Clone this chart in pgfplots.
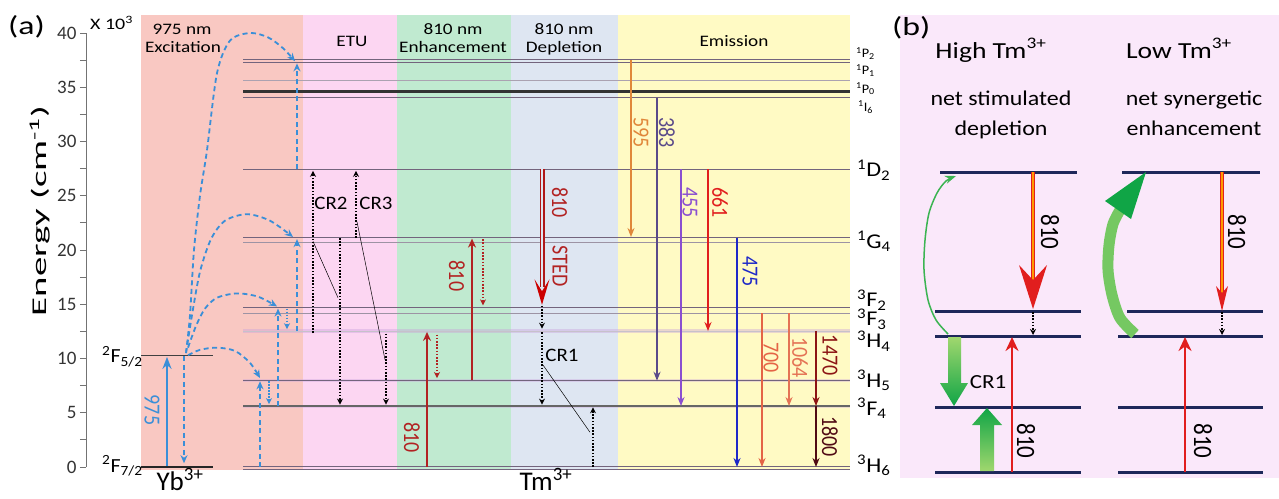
\documentclass[border=0pt]{standalone}
\usepackage{fontspec}
\setmainfont{Carlito}
\usepackage{graphicx}
\usepackage{pgfplots}
\pgfplotsset{compat=1.18}
\usetikzlibrary{arrows.meta}

\definecolor{cExc}{RGB}{249,200,194}
\definecolor{cETU}{RGB}{252,214,242}
\definecolor{cEnh}{RGB}{192,234,208}
\definecolor{cDep}{RGB}{222,230,242}
\definecolor{cEmi}{RGB}{255,250,196}
\definecolor{cPb}{RGB}{250,232,250}
\definecolor{levc}{RGB}{115,100,125}
\definecolor{bandc}{RGB}{200,160,220}
\definecolor{blueA}{RGB}{58,143,216}
\definecolor{dred}{RGB}{178,34,34}
\definecolor{cOr}{RGB}{224,135,58}
\definecolor{cDP}{RGB}{90,74,138}
\definecolor{cPu}{RGB}{138,79,208}
\definecolor{cRd}{RGB}{225,30,30}
\definecolor{cBl}{RGB}{30,40,200}
\definecolor{cCo}{RGB}{228,100,70}
\definecolor{cCo2}{RGB}{228,115,85}
\definecolor{cDR}{RGB}{140,20,20}
\definecolor{cDR2}{RGB}{80,10,20}
\definecolor{navy}{RGB}{30,40,90}
\definecolor{gL}{RGB}{160,215,110}
\definecolor{gD}{RGB}{16,165,70}
\definecolor{stedc}{RGB}{176,24,24}

\newcommand{\hs}[2][1.2]{\scalebox{#1}[1]{#2}}
\newcommand{\vs}[2][1.15]{\scalebox{1}[#1]{#2}}

\tikzset{
  dsh/.style={blueA, line width=1.8pt, dash pattern=on 5pt off 3.5pt},
  dotb/.style={line width=1.8pt, dash pattern=on 1.6pt off 1.6pt},
  ah/.style={-{Stealth[length=8pt,width=7pt]}},
  sah/.style={-{Stealth[length=6pt,width=6pt]}},
  solar/.style={line width=2pt, -{Stealth[length=9pt,width=7pt]}},
  lbl/.style={font=\fontsize{20}{20}\selectfont, rotate=-90, inner sep=0pt},
  hdr/.style={font=\fontsize{16}{16}\selectfont, anchor=base, inner sep=0pt},
  lev/.style={levc, line width=1pt},
}

\begin{document}
\begin{tikzpicture}
% ---------------- panel (b) and frame, pixel coordinates ----------------
\begin{axis}[name=B, at={(0pt,0pt)}, anchor=north west, x=1pt, y=1pt,
  xmin=0, xmax=1279, ymin=0, ymax=498, y dir=reverse, hide axis, clip=false]
\addplot[fill=cPb, draw=none] coordinates {(900,15) (1279,15) (1279,478) (900,478)} --cycle;
% levels left group
\addplot[navy, line width=3pt] coordinates {(940,172) (1077,172)};
\addplot[navy, line width=3pt] coordinates {(935,311) (1081,311)};
\addplot[navy, line width=3pt] coordinates {(935,336) (1081,336)};
\addplot[navy, line width=3pt] coordinates {(935,407) (1081,407)};
\addplot[navy, line width=3pt] coordinates {(935,472) (1081,472)};
% levels right group
\addplot[navy, line width=3pt] coordinates {(1122,172) (1260,172)};
\addplot[navy, line width=3pt] coordinates {(1127,311) (1263,311)};
\addplot[navy, line width=3pt] coordinates {(1118,336) (1263,336)};
\addplot[navy, line width=3pt] coordinates {(1118,407) (1263,407)};
\addplot[navy, line width=3pt] coordinates {(1118,472) (1263,472)};
% red double arrows
\addplot[draw=cRd, double=orange!80!yellow, double distance=1.6pt, line width=1.4pt] coordinates {(1033,172) (1033,285)};
\addplot[fill=cRd, draw=none] coordinates {(1033,309) (1019,265) (1033,280) (1047,265)} --cycle;
\addplot[draw=cRd, double=orange!80!yellow, double distance=1.3pt, line width=1.0pt] coordinates {(1222,172) (1222,298)};
\addplot[fill=cRd, draw=none] coordinates {(1222,311) (1216,286) (1222,293) (1228,286)} --cycle;
% dotted
\addplot[dotb, black, line width=1.4pt, sah] coordinates {(1033,312) (1033,335)};
\addplot[dotb, black, line width=1.4pt, sah] coordinates {(1222,312) (1222,335)};
% red solid up
\addplot[cRd, line width=2.5pt, -{Stealth[length=14pt,width=13pt]}] coordinates {(1012,472) (1012,337)};
\addplot[cRd, line width=2.5pt, -{Stealth[length=14pt,width=13pt]}] coordinates {(1185,472) (1185,337)};
% green block arrows
\addplot[draw=none, top color=gL, bottom color=gD] coordinates {(948,337) (961,337) (961,383) (968,383) (954,406) (940,383) (948,383)} --cycle;
\addplot[draw=none, top color=gD, bottom color=gL] coordinates {(980,471) (994,471) (994,425) (1002,425) (987,408) (972,425) (980,425)} --cycle;
% green curves
\addplot[smooth, color=gD!70!gL, line width=1.5pt, -{Stealth[length=11pt,width=8pt]}] coordinates {(948,334) (936,320) (928,300) (924,270) (925,240) (929,213) (937,193) (946,181) (956,176)};
\addplot[smooth, color=gL!70!gD, line width=11pt] coordinates {(1135,334) (1120,318) (1112,295) (1108,270) (1109,245) (1113,224) (1120,210)};
\addplot[fill=gD, draw=none] coordinates {(1146,172) (1105,201) (1131,219)} --cycle;
% texts
\node[anchor=base west, font=\fontsize{26}{26}\selectfont, inner sep=0pt] at (axis cs:892,35) {\hs[1.3]{(b)}};
\node[anchor=base, font=\fontsize{23}{23}\selectfont, inner sep=0pt] at (axis cs:991,58) {\hs{High Tm\textsuperscript{3+}}};
\node[anchor=base, font=\fontsize{23}{23}\selectfont, inner sep=0pt] at (axis cs:1179,58) {\hs{Low Tm\textsuperscript{3+}}};
\node[anchor=base, font=\fontsize{21}{21}\selectfont, inner sep=0pt] at (axis cs:1001,105) {\hs[1.14]{net stimulated}};
\node[anchor=base, font=\fontsize{21}{21}\selectfont, inner sep=0pt] at (axis cs:1001,135) {\hs[1.14]{depletion}};
\node[anchor=base, font=\fontsize{21}{21}\selectfont, inner sep=0pt] at (axis cs:1194,105) {\hs[1.14]{net synergetic}};
\node[anchor=base, font=\fontsize{21}{21}\selectfont, inner sep=0pt] at (axis cs:1194,135) {\hs[1.14]{enhancement}};
\node[font=\fontsize{20}{20}\selectfont, inner sep=0pt] at (axis cs:988,382) {\hs[1.15]{CR1}};
\node[lbl, font=\fontsize{23}{23}\selectfont] at (axis cs:1050,232) {\vs{810}};
\node[lbl, font=\fontsize{23}{23}\selectfont] at (axis cs:1237,232) {\vs{810}};
\node[lbl, font=\fontsize{23}{23}\selectfont] at (axis cs:1026,441) {\vs{810}};
\node[lbl, font=\fontsize{23}{23}\selectfont] at (axis cs:1203,441) {\vs{810}};
\coordinate (bbSW) at (axis cs:0,498);
\coordinate (bbNE) at (axis cs:1279,0);
\end{axis}

% ---------------- panel (a): x in pixels, y in 10^3 cm^-1 ----------------
\begin{axis}[name=A, at={(86pt,-467pt)}, anchor=south west, x=1pt, y=10.85pt,
  xmin=86, xmax=860, ymin=0, ymax=40, clip=false,
  axis x line=none, axis y line*=left,
  ytick={0,5,...,40}, minor ytick={2.5,7.5,...,37.5},
  tick align=outside, major tick length=6pt, minor tick length=6pt,
  every tick/.style={black!55, line width=0.9pt},
  y axis line style={black!55, line width=0.9pt},
  yticklabel style={font=\fontsize{19}{19}\selectfont, text=black!80},
  /pgf/number format/assume math mode=true]
% backgrounds
\addplot[fill=cExc, draw=none] coordinates {(141,-0.28) (303,-0.28) (303,41.7) (141,41.7)} --cycle;
\addplot[fill=cETU, draw=none] coordinates {(303,-0.28) (397,-0.28) (397,41.7) (303,41.7)} --cycle;
\addplot[fill=cEnh, draw=none] coordinates {(397,-0.28) (511,-0.28) (511,41.7) (397,41.7)} --cycle;
\addplot[fill=cDep, draw=none] coordinates {(511,-0.28) (618,-0.28) (618,41.7) (511,41.7)} --cycle;
\addplot[fill=cEmi, draw=none] coordinates {(618,-0.28) (850,-0.28) (850,41.7) (618,41.7)} --cycle;
% Yb levels
\addplot[black!75, line width=1pt] coordinates {(141,10.25) (213,10.25)};
\addplot[black!85, line width=1.6pt] coordinates {(141,0) (213,0)};
% Tm level bands
\addplot[bandc, line width=4pt, opacity=0.4] coordinates {(243,12.53) (850,12.53)};
\addplot[bandc, line width=3pt, opacity=0.35] coordinates {(243,7.95) (850,7.95)};
\addplot[bandc, line width=3pt, opacity=0.35] coordinates {(243,5.62) (850,5.62)};
% Tm levels
\addplot[lev, line width=0.9pt] coordinates {(243,37.55) (850,37.55)};
\addplot[lev, line width=0.9pt] coordinates {(243,37.3) (850,37.3)};
\addplot[lev, levc!60, line width=0.8pt] coordinates {(243,35.6) (850,35.6)};
\addplot[black!80, line width=2.2pt] coordinates {(243,34.6) (850,34.6)};
\addplot[lev] coordinates {(243,34.05) (850,34.05)};
\addplot[lev] coordinates {(243,27.44) (850,27.44)};
\addplot[lev, line width=0.9pt] coordinates {(243,21.13) (850,21.13)};
\addplot[lev, levc!70, line width=0.8pt] coordinates {(243,20.67) (850,20.67)};
\addplot[lev] coordinates {(243,14.72) (850,14.72)};
\addplot[lev, levc!70, line width=0.8pt] coordinates {(243,14.17) (850,14.17)};
\addplot[lev, levc!40, line width=0.7pt] coordinates {(243,12.53) (850,12.53)};
\addplot[lev] coordinates {(243,7.95) (850,7.95)};
\addplot[lev, black!60, line width=1.4pt] coordinates {(243,5.62) (850,5.62)};
\addplot[lev, line width=1.2pt] coordinates {(243,0.05) (850,0.05)};
\addplot[lev, line width=1.2pt] coordinates {(243,-0.25) (850,-0.25)};
% 975 excitation
\addplot[blueA, line width=2.6pt, -{Stealth[length=12pt,width=9pt]}] coordinates {(167,0.1) (167,10.15)};
\addplot[dsh, ah] coordinates {(184,10.2) (184,0.35)};
% energy transfer curves
\addplot[dsh, smooth, ah] coordinates {(186,10.5) (190,14) (194,20) (200,25) (207,29.2) (217,36.3) (230,39.3) (250,40.0) (268,39.6) (283,38.6) (295,37.4)};
\addplot[dsh, smooth, ah] coordinates {(186,10.5) (192,14) (200,18) (211,21) (225,22.7) (247,23.3) (270,22.7) (293,21.2)};
\addplot[dsh, smooth, ah] coordinates {(188,11) (196,13) (205,14.6) (217,15.6) (237,16.0) (258,15.7) (277,14.8)};
\addplot[dsh, smooth, ah] coordinates {(188,10.3) (200,10.8) (217,11.0) (235,10.7) (250,9.6) (260,8.2)};
\addplot[dsh, ah] coordinates {(297,27.44) (297,37.2)};
\addplot[dsh, ah] coordinates {(297,12.53) (297,21.0)};
\addplot[dsh, ah] coordinates {(278,5.62) (278,14.6)};
\addplot[dsh, ah] coordinates {(260,0) (260,7.9)};
\addplot[blueA, line width=1.6pt, dash pattern=on 1.5pt off 1.5pt, sah] coordinates {(287,14.6) (287,12.7)};
\addplot[blueA, line width=1.6pt, dash pattern=on 1.5pt off 1.5pt, sah] coordinates {(269,7.9) (269,5.8)};
% ETU cross relaxation
\addplot[dotb, black, sah] coordinates {(313,12.35) (313,27.3)};
\addplot[dotb, black, sah] coordinates {(340,21.1) (340,5.75)};
\addplot[dotb, black, sah] coordinates {(356,21.1) (356,27.3)};
\addplot[dotb, black, sah] coordinates {(386,12.3) (386,5.75)};
\addplot[black, line width=0.5pt] coordinates {(313,20.8) (338,15.6)};
\addplot[black, line width=0.5pt] coordinates {(357,22.6) (385,9.9)};
% 810 enhancement
\addplot[dred, line width=2.4pt, -{Stealth[length=9pt,width=8pt]}] coordinates {(427,0) (427,12.45)};
\addplot[dred, dotb, sah] coordinates {(437,12.2) (437,8.2)};
\addplot[dred, line width=2.4pt, -{Stealth[length=9pt,width=8pt]}] coordinates {(472,8.05) (472,21.05)};
\addplot[dred, dotb, sah] coordinates {(483,21.0) (483,14.9)};
% 810 depletion (STED)
\addplot[draw=stedc, double=cDep, double distance=2pt, line width=1.5pt] coordinates {(542,27.44) (542,16.6)};
\addplot[fill=red!80!black, draw=none] coordinates {(542,14.95) (534.5,17.3) (542,16.2) (549.5,17.3)} --cycle;
\addplot[dotb, black, sah] coordinates {(542,14.85) (542,12.75)};
\addplot[dotb, black, sah] coordinates {(542,12.4) (542,5.75)};
\addplot[black, line width=0.5pt] coordinates {(543,9.4) (590,3.2)};
\addplot[dotb, black, sah] coordinates {(593,0) (593,5.5)};
% emission
\addplot[cOr, solar] coordinates {(631,37.5) (631,21.2)};
\addplot[cDP, solar] coordinates {(657,34.05) (657,7.95)};
\addplot[cPu, solar] coordinates {(681,27.44) (681,5.62)};
\addplot[cRd, solar] coordinates {(708,27.44) (708,12.53)};
\addplot[cBl, solar] coordinates {(737,21.13) (737,0)};
\addplot[cCo, solar] coordinates {(762,14.17) (762,0)};
\addplot[cCo2, solar] coordinates {(789,14.17) (789,5.62)};
\addplot[cDR, solar] coordinates {(816,12.53) (816,5.62)};
\addplot[cDR2, solar] coordinates {(816,5.62) (816,0)};
% ---- texts ----
\node[anchor=base west, font=\fontsize{26}{26}\selectfont, inner sep=0pt] at (axis cs:8,39.82) {\hs[1.3]{(a)}};
\node[anchor=base west, font=\fontsize{16}{16}\selectfont, inner sep=0pt] at (axis cs:90,40.3) {\hs[1.25]{X 10\textsuperscript{3}}};
\node[rotate=90, font=\fontsize{21}{21}\selectfont, inner sep=0pt] at (axis cs:40,23.6) {\scalebox{1.85}[1]{Energy (cm\textsuperscript{-1})}};
\node[hdr] at (axis cs:182,39.82) {\hs{975 nm}};
\node[hdr] at (axis cs:183,38.16) {\hs{Excitation}};
\node[hdr] at (axis cs:352,38.71) {\hs{ETU}};
\node[hdr] at (axis cs:453,39.82) {\hs{810 nm}};
\node[hdr] at (axis cs:453,38.16) {\hs{Enhancement}};
\node[hdr] at (axis cs:564,39.82) {\hs{810 nm}};
\node[hdr] at (axis cs:564,38.16) {\hs{Depletion}};
\node[hdr] at (axis cs:734,38.71) {\hs{Emission}};
% level labels
\node[anchor=base west, font=\fontsize{13}{13}\selectfont, inner sep=0pt] at (axis cs:856,37.7) {\hs[1.1]{\textsuperscript{1}P\textsubscript{2}}};
\node[anchor=base west, font=\fontsize{13}{13}\selectfont, inner sep=0pt] at (axis cs:856,36.15) {\hs[1.1]{\textsuperscript{1}P\textsubscript{1}}};
\node[anchor=base west, font=\fontsize{13}{13}\selectfont, inner sep=0pt] at (axis cs:856,34.47) {\hs[1.1]{\textsuperscript{1}P\textsubscript{0}}};
\node[anchor=base west, font=\fontsize{13}{13}\selectfont, inner sep=0pt] at (axis cs:858,32.8) {\hs[1.1]{\textsuperscript{1}I\textsubscript{6}}};
\node[anchor=base west, font=\fontsize{21}{21}\selectfont, inner sep=0pt] at (axis cs:857,26.73) {\hs[1.15]{\textsuperscript{1}D\textsubscript{2}}};
\node[anchor=base west, font=\fontsize{21}{21}\selectfont, inner sep=0pt] at (axis cs:857,20.18) {\hs[1.15]{\textsuperscript{1}G\textsubscript{4}}};
\node[anchor=base west, font=\fontsize{21}{21}\selectfont, inner sep=0pt] at (axis cs:857,14.75) {\hs[1.15]{\textsuperscript{3}F\textsubscript{2}}};
\node[anchor=base west, font=\fontsize{21}{21}\selectfont, inner sep=0pt] at (axis cs:857,13.0) {\hs[1.15]{\textsuperscript{3}F\textsubscript{3}}};
\node[anchor=base west, font=\fontsize{21}{21}\selectfont, inner sep=0pt] at (axis cs:857,10.97) {\hs[1.15]{\textsuperscript{3}H\textsubscript{4}}};
\node[anchor=base west, font=\fontsize{21}{21}\selectfont, inner sep=0pt] at (axis cs:857,7.37) {\hs[1.15]{\textsuperscript{3}H\textsubscript{5}}};
\node[anchor=base west, font=\fontsize{21}{21}\selectfont, inner sep=0pt] at (axis cs:857,4.79) {\hs[1.15]{\textsuperscript{3}F\textsubscript{4}}};
\node[anchor=base west, font=\fontsize{21}{21}\selectfont, inner sep=0pt] at (axis cs:857,-0.46) {\hs[1.15]{\textsuperscript{3}H\textsubscript{6}}};
\node[anchor=base west, font=\fontsize{20}{20}\selectfont, inner sep=0pt] at (axis cs:102,9.59) {\hs[1.1]{\textsuperscript{2}F\textsubscript{5/2}}};
\node[anchor=base west, font=\fontsize{20}{20}\selectfont, inner sep=0pt] at (axis cs:102,-0.46) {\hs[1.1]{\textsuperscript{2}F\textsubscript{7/2}}};
\node[anchor=base, font=\fontsize{27}{27}\selectfont, inner sep=0pt] at (axis cs:180,-2.12) {Yb\textsuperscript{3+}};
\node[anchor=base, font=\fontsize{27}{27}\selectfont, inner sep=0pt] at (axis cs:546,-2.12) {Tm\textsuperscript{3+}};
% arrow labels
\node[lbl, text=blueA] at (axis cs:152,5.25) {\vs{975}};
\node[lbl, text=dred] at (axis cs:412,2.7) {\vs{810}};
\node[lbl, text=dred] at (axis cs:457,17.6) {\vs{810}};
\node[lbl, text=dred] at (axis cs:560,24.4) {\vs{810}};
\node[lbl, text=dred] at (axis cs:560,18.5) {\vs{STED}};
\node[font=\fontsize{19}{19}\selectfont, inner sep=0pt] at (axis cs:562,10.3) {\hs[1.1]{CR1}};
\node[font=\fontsize{19}{19}\selectfont, inner sep=0pt] at (axis cs:331,24.3) {\hs[1.1]{CR2}};
\node[font=\fontsize{19}{19}\selectfont, inner sep=0pt] at (axis cs:376,24.3) {\hs[1.1]{CR3}};
\node[lbl, text=cOr] at (axis cs:641,30.8) {\vs{595}};
\node[lbl, text=cDP] at (axis cs:667,30.8) {\vs{383}};
\node[lbl, text=cPu] at (axis cs:690,24.4) {\vs{455}};
\node[lbl, text=cRd] at (axis cs:720,24.4) {\vs{661}};
\node[lbl, text=cBl] at (axis cs:750,18.0) {\vs{475}};
\node[lbl, text=cCo] at (axis cs:771,10.1) {\vs{700}};
\node[lbl, text=cCo2] at (axis cs:800,10.1) {\vs{1064}};
\node[lbl, text=cDR] at (axis cs:830,10.3) {\vs{1470}};
\node[lbl, text=cDR2] at (axis cs:830,2.8) {\vs{1800}};
\end{axis}
\pgfresetboundingbox
\path[use as bounding box] (bbSW) rectangle (bbNE);
\end{tikzpicture}
\end{document}
